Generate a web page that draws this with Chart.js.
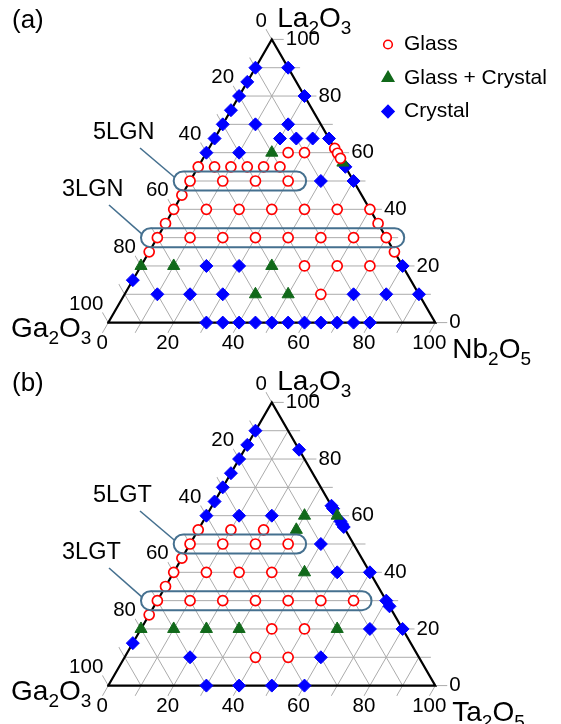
<!DOCTYPE html>
<html><head><meta charset="utf-8">
<script src="https://cdn.jsdelivr.net/npm/chart.js@4/dist/chart.umd.min.js"></script>
<style>
html,body{margin:0;padding:0;background:#fff;overflow:hidden;width:561px;height:724px;}
canvas{position:absolute;left:0;}
#ca{top:0px}
#cb{top:363px}
</style></head><body>
<canvas id="ca" width="561" height="372"></canvas>
<canvas id="cb" width="561" height="372"></canvas>
<script>
// ---------- data (mol%: [La2O3, M2O5]; Ga2O3 = 100 - La2O3 - M2O5) ----------
const gridValues = [0,10,20,30,40,50,60,70,80,90,100];
const tickLabels = [0,20,40,60,80,100];
const seriesNames = ['Glass','Glass + Crystal','Crystal'];

const aGlass = [
  [61.5,38.5],[59.8,40.2],[58,42],[60,25],[60,30],
  [55,0],[55,5],[55,10],[55,15],[55,20],[55,25],
  [50,0],[50,10],[50,20],[50,30],[45,0],
  [40,0],[40,10],[40,20],[40,30],[40,40],[40,50],[40,60],
  [35,0],[35,65],
  [30,0],[30,10],[30,20],[30,30],[30,40],[30,50],[30,60],[30,70],
  [25,0],[25,75],[20,50],[20,60],[20,70],[10,60]
];
const aMixed = [[60,20],[56.5,43.5],[20,0],[20,10],[20,40],[10,40],[10,50]];
const aCrystal = [
  [90,0],[85,0],[80,0],[75,0],[70,0],[65,0],[60,0],[15,0],
  [90,10],[80,20],[65,35],[55,45],[50,50],[20,80],[10,90],
  [70,10],[70,20],[65,20],[65,25],[65,30],[60,10],[50,40],
  [20,20],[20,30],[10,10],[10,20],[10,30],[10,70],[10,80],
  [0,30],[0,35],[0,40],[0,45],[0,50],[0,55],[0,60],[0,65],[0,70],[0,75],[0,80]
];

const bGlass = [
  [55,0],[55,10],[55,20],[50,0],[50,10],[50,20],[50,30],[45,0],
  [40,0],[40,10],[40,20],[40,30],[35,0],
  [30,0],[30,10],[30,20],[30,30],[30,40],[30,50],[30,60],
  [25,0],[20,40],[20,50],[10,40],[10,50]
];
const bMixed = [[60,30],[60,40],[55,30],[40,40],[20,0],[20,10],[20,20],[20,30],[20,60]];
const bCrystal = [
  [90,0],[85,0],[80,0],[75,0],[70,0],[65,0],[60,0],[15,0],
  [83.3,16.7],[63.5,36.5],[62.5,37.5],[58,42],[57,43],[56,44],[40,60],[30,70],[28,72],[20,80],
  [60,10],[60,20],[50,40],[40,50],[20,70],[10,20],[10,60],
  [0,30],[0,40],[0,50],[0,60]
];

const aTitles = {
  top:   [['La',0],['2',1],['O',0],['3',1]],
  left:  [['Ga',0],['2',1],['O',0],['3',1]],
  right: [['Nb',0],['2',1],['O',0],['5',1]]
};
const bTitles = {
  top:   [['La',0],['2',1],['O',0],['3',1]],
  left:  [['Ga',0],['2',1],['O',0],['3',1]],
  right: [['Ta',0],['2',1],['O',0],['5',1]]
};
const aBoxes = [
  {label:'5LGN', la:50, from:0, to:30, lx:93, ly:133},
  {label:'3LGN', la:30, from:0, to:70, lx:62, ly:190}
];
const bBoxes = [
  {label:'5LGT', la:50, from:0, to:30, lx:93, ly:133},
  {label:'3LGT', la:30, from:0, to:60, lx:62, ly:190}
];

// ---------- helpers ----------
const FONT = '"Liberation Sans", Arial, sans-serif';
const toXY = p => ({x: p[1] + p[0] / 2, y: p[0]});
const COL = {glass:'#ff0000', mixed:'#11691a', crystal:'#0000ff', grid:'#ababab', box:'#45708f'};

function lineDs(pts, color, width, order) {
  return {data: pts, showLine: true, borderColor: color, borderWidth: width, order: order,
          pointRadius: 0, fill: false, tension: 0, borderCapStyle: 'square', borderJoinStyle: 'miter'};
}

function drawRich(ctx, pieces, x, y, align) {
  const mainF = '28px ' + FONT, subF = '19px ' + FONT;
  let w = 0;
  pieces.forEach(p => { ctx.font = p[1] ? subF : mainF; w += ctx.measureText(p[0]).width; });
  let cx = align === 'right' ? x - w : x;
  ctx.textAlign = 'left'; ctx.textBaseline = 'alphabetic';
  pieces.forEach(p => {
    ctx.font = p[1] ? subF : mainF;
    ctx.fillText(p[0], cx, p[1] ? y + 7 : y);
    cx += ctx.measureText(p[0]).width;
  });
}

function roundRect(ctx, x0, y0, x1, y1, r) {
  ctx.beginPath();
  ctx.moveTo(x0 + r, y0);
  ctx.lineTo(x1 - r, y0);
  ctx.arc(x1 - r, y0 + r, r, -Math.PI/2, Math.PI/2);
  ctx.lineTo(x0 + r, y1);
  ctx.arc(x0 + r, y0 + r, r, Math.PI/2, Math.PI*1.5);
  ctx.closePath();
}

const decor = {
  id: 'decor',
  afterDatasetsDraw(chart, args, o) {
    const ctx = chart.ctx, sx = chart.scales.x, sy = chart.scales.y;
    const P = (x, y) => [sx.getPixelForValue(x), sy.getPixelForValue(y)];
    ctx.save();
    // boxes + leaders + labels
    o.boxes.forEach(b => {
      const [xl, yc] = P(b.from + b.la/2 - 5, b.la);
      const [xr] = P(b.to + b.la/2 + 5.5, b.la);
      ctx.strokeStyle = COL.box; ctx.lineWidth = 2;
      roundRect(ctx, xl, yc - 9.5, xr, yc + 9.5, 9.5);
      ctx.stroke();
      ctx.lineWidth = 1.6;
      ctx.beginPath();
      ctx.moveTo(b.lx + 47, b.ly + 15);
      ctx.lineTo(xl + 0.5, yc - 4);
      ctx.stroke();
      ctx.fillStyle = '#000';
      ctx.font = '23.5px ' + FONT;
      ctx.textAlign = 'left'; ctx.textBaseline = 'middle';
      ctx.fillText(b.label, b.lx, b.ly);
    });
    // tick labels
    ctx.fillStyle = '#000';
    ctx.font = '20.5px ' + FONT;
    ctx.textBaseline = 'middle';
    tickLabels.forEach(v => {
      let [x, y] = P(100 - v/2, v);            // La2O3 (right side)
      ctx.textAlign = 'left'; ctx.fillText(String(v), x + 14, y);
      [x, y] = P((100 - v)/2, 100 - v);        // Ga2O3 (left side)
      ctx.textAlign = 'right'; ctx.fillText(String(v), x - 5, y - 18.5);
      [x, y] = P(v, 0);                         // M2O5 (bottom)
      ctx.textAlign = 'center'; ctx.fillText(String(v), x - 6, y + 21);
    });
    // axis titles
    let [ax, ay] = P(50, 100);
    drawRich(ctx, o.titles.top, ax + 5.5, ay - 12.5, 'left');
    [ax, ay] = P(0, 0);
    drawRich(ctx, o.titles.left, ax - 17, ay + 14, 'right');
    [ax, ay] = P(100, 0);
    drawRich(ctx, o.titles.right, ax + 17, ay + 35, 'left');
    // panel letter
    ctx.font = '26px ' + FONT; ctx.textAlign = 'left'; ctx.textBaseline = 'alphabetic';
    ctx.fillText(o.panel, 12, 28);
    // legend
    if (o.legend) {
      const items = [
        {style:'circle', r:4.3, fill:'#ffffff', stroke:COL.glass, bw:1.7},
        {style:'triangle', r:6.5, fill:COL.mixed, stroke:COL.mixed, bw:1},
        {style:'rectRot', r:6, fill:COL.crystal, stroke:COL.crystal, bw:1}
      ];
      items.forEach((it, i) => {
        const y = 44.5 + i * 33.5;
        ctx.fillStyle = it.fill; ctx.strokeStyle = it.stroke;
        Chart.helpers.drawPoint(ctx, {pointStyle: it.style, radius: it.r, rotation: 0, borderWidth: it.bw}, 388, y);
        ctx.fillStyle = '#000';
        ctx.font = '21px ' + FONT; ctx.textAlign = 'left'; ctx.textBaseline = 'middle';
        ctx.fillText(seriesNames[i], 404, y);
      });
    }
    ctx.restore();
  }
};

function makeChart(id, glass, mixed, crystal, titles, boxes, panel, legend) {
  const T = 3.5;
  const datasets = [];
  gridValues.forEach(v => {
    datasets.push(lineDs([{x: v/2, y: v}, {x: 100 - v/2 + T, y: v}], COL.grid, 1, 10));
    datasets.push(lineDs([{x: v - T/2, y: -T}, {x: v + (100 - v)/2, y: 100 - v}], COL.grid, 1, 10));
    datasets.push(lineDs([{x: (100 - v)/2 - T/2, y: 100 - v + T}, {x: 100 - v, y: 0}], COL.grid, 1, 10));
  });
  datasets.push(lineDs([{x:0,y:0},{x:100,y:0},{x:50,y:100},{x:0,y:0}], '#000', 2.2, 5));
  datasets.push({label: seriesNames[2], data: crystal.map(toXY), pointStyle: 'rectRot', pointRadius: 6.5, order: 3,
                 backgroundColor: COL.crystal, borderColor: COL.crystal, borderWidth: 1, showLine: false});
  datasets.push({label: seriesNames[1], data: mixed.map(toXY), pointStyle: 'triangle', pointRadius: 7, order: 2,
                 backgroundColor: COL.mixed, borderColor: COL.mixed, borderWidth: 1, showLine: false});
  datasets.push({label: seriesNames[0], data: glass.map(toXY), pointStyle: 'circle', pointRadius: 5, order: 1,
                 backgroundColor: '#ffffff', borderColor: COL.glass, borderWidth: 1.7, showLine: false});
  return new Chart(document.getElementById(id), {
    type: 'scatter',
    data: {datasets},
    options: {
      responsive: false, animation: false, devicePixelRatio: 1, events: [],
      layout: {padding: 0, autoPadding: false},
      scales: {
        x: {type: 'linear', min: -33.12, max: 138.44, display: false},
        y: {type: 'linear', min: -17.44, max: 113.91, display: false}
      },
      plugins: {legend: {display: false}, tooltip: {enabled: false},
                decor: {titles, boxes, panel, legend}}
    },
    plugins: [decor]
  });
}

makeChart('ca', aGlass, aMixed, aCrystal, aTitles, aBoxes, '(a)', true);
makeChart('cb', bGlass, bMixed, bCrystal, bTitles, bBoxes, '(b)', false);
</script>
</body></html>
